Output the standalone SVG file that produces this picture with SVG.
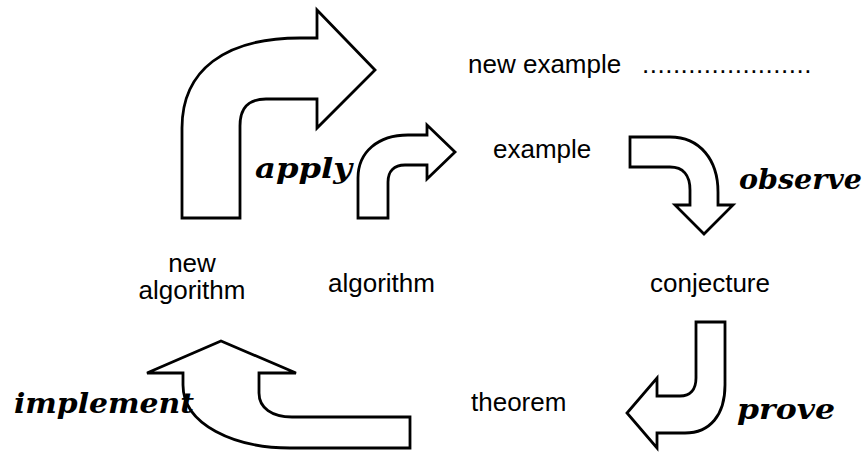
<svg xmlns="http://www.w3.org/2000/svg" width="864" height="452" viewBox="0 0 864 452">
<style>
.arrow{fill:#fff;stroke:#000;stroke-width:2.8;stroke-linejoin:miter}
.t{font-family:"Liberation Sans",Arial,sans-serif;font-size:26px;fill:#000}
.lbl{font-family:"DejaVu Serif",serif;font-weight:bold;font-style:italic;font-size:27px;fill:#000}
</style>
<rect width="864" height="452" fill="#fff"/>
<g id="connectors">
<path id="arrow-apply-big" class="arrow" d="M182,218 L182,128 C182,70 225,38 300,38 L317,38 L317,10 L375,70 L317,128 L317,99 L266,99 C248,99 240,108 240,126 L240,218 Z"/>
<path id="arrow-apply-small" class="arrow" d="M358,218 L358,178 C358,152 378,135 408,135 L427,135 L427,125 L455,152 L427,179 L427,165 L405,165 C394,165 388,171 388,182 L388,218 Z"/>
<path id="arrow-observe" class="arrow" d="M630,137 L670,137 C700,137 718,160 718,192 L718,205 L733,205 L704,234 L675,205 L690,205 L690,190 C690,175 683,167 670,167 L630,167 Z"/>
<path id="arrow-prove" class="arrow" d="M696,322 L725,322 L725,385 C725,415 710,433 685,433 L657,433 L657,448 L627,413 L657,378 L657,396 L680,396 C690,396 696,390 696,378 Z"/>
<path id="arrow-implement" class="arrow" d="M147,373 L221,341 L296,373 L259,373 L259,393 C259,408 272,417 292,417 L410,417 L410,448 L290,448 C235,448 183,425 183,385 L183,373 Z"/>
</g>
<g id="node-new-example"><text class="t" x="468" y="73">new example</text><text class="t" x="642" y="73" letter-spacing="0.5">......................</text></g>
<g id="node-example"><text class="t" x="493" y="158">example</text></g>
<g id="node-conjecture"><text class="t" x="650" y="292">conjecture</text></g>
<g id="node-theorem"><text class="t" x="471" y="411">theorem</text></g>
<g id="node-algorithm"><text class="t" x="328" y="292">algorithm</text></g>
<g id="node-new-algorithm"><text class="t" x="192" y="272" text-anchor="middle">new</text><text class="t" x="192" y="299" text-anchor="middle">algorithm</text></g>
<g id="label-apply"><text class="lbl" x="255" y="178" textLength="97" lengthAdjust="spacingAndGlyphs">apply</text></g>
<g id="label-observe"><text class="lbl" x="739" y="189" textLength="123" lengthAdjust="spacingAndGlyphs">observe</text></g>
<g id="label-prove"><text class="lbl" x="737" y="419" textLength="98" lengthAdjust="spacingAndGlyphs">prove</text></g>
<g id="label-implement"><text class="lbl" x="14" y="413" textLength="180" lengthAdjust="spacingAndGlyphs">implement</text></g>
</svg>
